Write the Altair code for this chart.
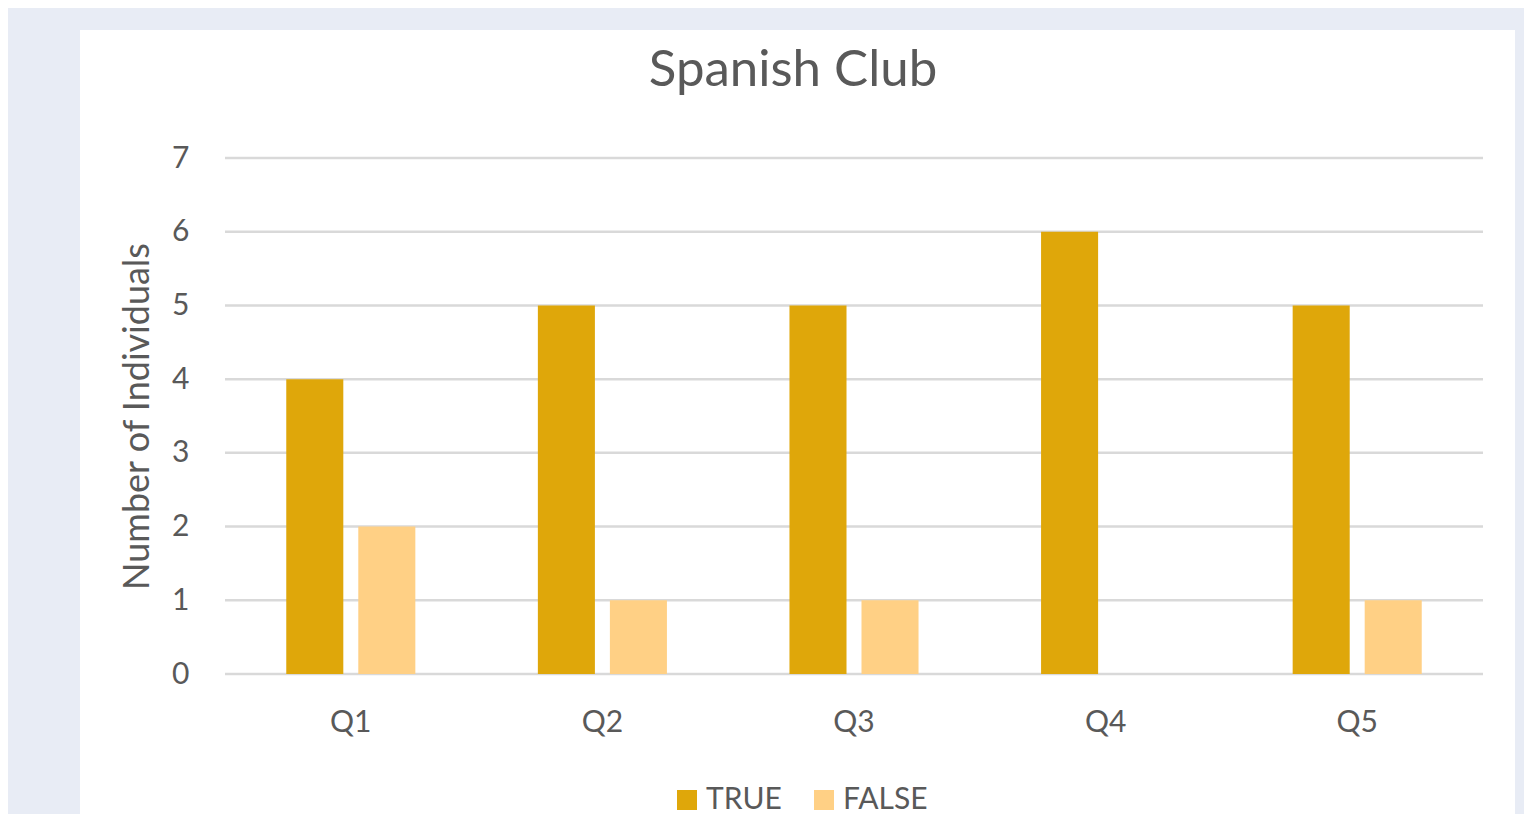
import altair as alt
import pandas as pd

questions = ["Q1", "Q2", "Q3", "Q4", "Q5"]
true_counts = [4, 5, 5, 6, 5]
false_counts = [2, 1, 1, 0, 1]
series = ["TRUE", "FALSE"]
colors = ["#DFA70A", "#FFD085"]
y_ticks = [0, 1, 2, 3, 4, 5, 6, 7]

rows = []
for q, t, f in zip(questions, true_counts, false_counts):
    rows.append({"Question": q, "Answer": "TRUE", "Count": t})
    rows.append({"Question": q, "Answer": "FALSE", "Count": f})
df = pd.DataFrame(rows)

W, H = 1258, 516
FONT = "Lato"
TXT = "#595959"

y_axis = alt.Axis(values=y_ticks, grid=False, domain=False, ticks=False, zindex=2,
                  labelFontSize=30, labelColor=TXT, labelFont=FONT, labelPadding=36,
                  titleFontSize=36, titleColor=TXT, titleFont=FONT,
                  titleFontWeight="normal", titlePadding=15)
y_scale = alt.Scale(domain=[0, 7])

panel = alt.Chart(pd.DataFrame({"k": [0]})).mark_rect(color="white").encode(
    x=alt.value(-145), x2=alt.value(1290), y=alt.value(-128), y2=alt.value(700)
)

grid = alt.Chart(pd.DataFrame({"v": y_ticks})).mark_rule(color="#D9D9D9", strokeWidth=2.5).encode(
    y=alt.Y("v:Q", scale=y_scale, axis=y_axis, title="Number of Individuals"),
    x=alt.value(0), x2=alt.value(W)
)

bars = alt.Chart(df).mark_bar().encode(
    x=alt.X("Question:N", sort=questions, title=None,
            scale=alt.Scale(paddingInner=0.487, paddingOuter=0.2435),
            axis=alt.Axis(labelAngle=0, labelFontSize=30, labelColor=TXT, labelFont=FONT,
                          domain=False, ticks=False, labelPadding=33, zindex=2)),
    xOffset=alt.XOffset("Answer:N", sort=series,
                        scale=alt.Scale(paddingInner=0.208, paddingOuter=0)),
    y=alt.Y("Count:Q", scale=y_scale, title="Number of Individuals", axis=y_axis),
    color=alt.Color("Answer:N", sort=series,
                    scale=alt.Scale(domain=series, range=colors),
                    legend=alt.Legend(title=None, orient="none", direction="horizontal",
                                      legendX=447, legendY=627, symbolType="square",
                                      symbolSize=400, symbolStrokeWidth=0,
                                      labelFontSize=30, labelColor=TXT, labelFont=FONT,
                                      labelOffset=4, columnPadding=27, zindex=2)),
)

chart = alt.layer(panel, grid, bars).resolve_scale(y="shared").properties(
    width=W, height=H,
    title=alt.TitleParams("Spanish Club", fontSize=51, font=FONT, color=TXT,
                          fontWeight="normal", anchor="middle", dx=-61, offset=-107,
                          baseline="alphabetic", zindex=2),
    autosize=alt.AutoSizeParams(type="none"),
    padding={"left": 217, "top": 150, "right": 41, "bottom": 140},
    background="#E8ECF5",
).configure_view(stroke=None)

chart.save("out.html", embed_options={"renderer": "svg", "actions": False})
